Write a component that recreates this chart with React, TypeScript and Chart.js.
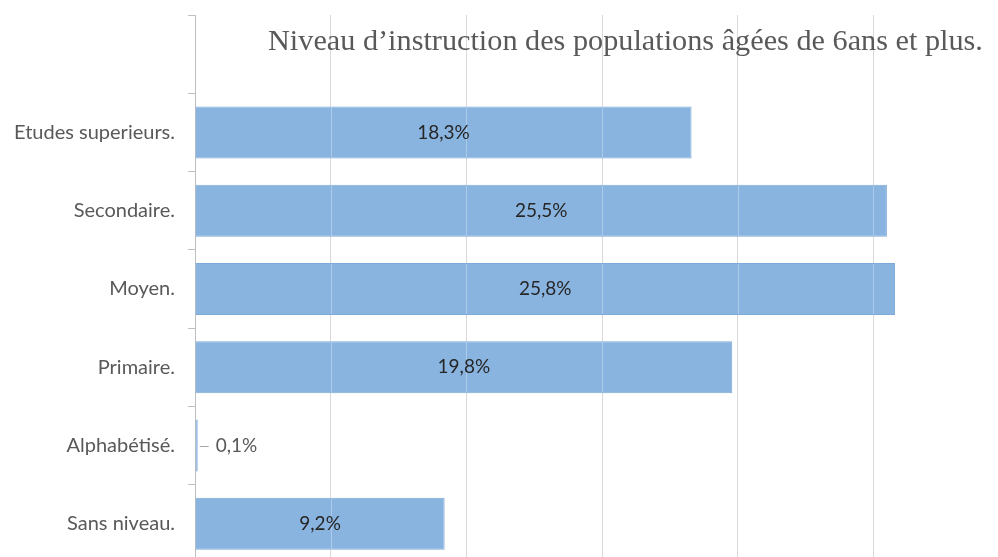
import React, { useEffect, useRef } from "react";
import { Chart, registerables } from "chart.js";

Chart.register(...registerables);

// Top band is empty: it holds the chart title, as in the reference.
const categories = ["", "Etudes superieurs.", "Secondaire.", "Moyen.", "Primaire.", "Alphabétisé.", "Sans niveau."];
const values: (number | null)[] = [null, 18.3, 25.5, 25.8, 19.8, 0.1, 9.2];
const valueLabels = ["", "18,3%", "25,5%", "25,8%", "19,8%", "0,1%", "9,2%"];
const xMin = 0;
const xMax = 30;
const xStep = 5;
const titleText = "Niveau d’instruction des populations âgées de 6ans et plus.";

const labelFont = "Lato";
const SHIFT = 10; // canvas is moved up by this much (chart area starts lower because of label padding)

const titlePlugin = {
  id: "insideTitle",
  afterDraw(chart: any) {
    const ctx = chart.ctx;
    ctx.save();
    ctx.fillStyle = "#595959";
    ctx.font = "100px 'Liberation Serif'";
    const w100 = ctx.measureText(titleText).width;
    const size = (100 * 715) / w100;
    ctx.font = `${size}px 'Liberation Serif'`;
    ctx.textAlign = "left";
    ctx.textBaseline = "alphabetic";
    ctx.fillText(titleText, 268, 50 + SHIFT);
    ctx.restore();
  },
};

const barDecorPlugin = {
  id: "barDecor",
  afterDatasetsDraw(chart: any) {
    const ctx = chart.ctx;
    const meta = chart.getDatasetMeta(0);
    const xScale = chart.scales.x;
    ctx.save();
    // light grid lines visible through bars
    meta.data.forEach((bar: any, i: number) => {
      const v = values[i];
      if (v == null) return;
      const { x, y, base, height } = bar.getProps(["x", "y", "base", "height"], true);
      ctx.strokeStyle = "rgba(255,255,255,0.3)";
      ctx.lineWidth = 1;
      for (let t = xMin + xStep; t < xMax; t += xStep) {
        const px = Math.round(xScale.getPixelForValue(t)) + 0.5;
        if (px > base + 1 && px < x - 1) {
          ctx.beginPath();
          ctx.moveTo(px, y - height / 2 + 1);
          ctx.lineTo(px, y + height / 2 - 1);
          ctx.stroke();
        }
      }
    });
    // value labels
    ctx.font = `19px ${labelFont}`;
    ctx.textBaseline = "middle";
    meta.data.forEach((bar: any, i: number) => {
      const v = values[i];
      if (v == null) return;
      const { x, y, base } = bar.getProps(["x", "y", "base"], true);
      if (x - base > 60) {
        ctx.fillStyle = "#262626";
        ctx.textAlign = "center";
        ctx.fillText(valueLabels[i], (x + base) / 2, y);
      } else {
        ctx.strokeStyle = "#a6a6a6";
        ctx.lineWidth = 1;
        ctx.beginPath();
        ctx.moveTo(x + 2, Math.round(y) + 0.5);
        ctx.lineTo(x + 11, Math.round(y) + 0.5);
        ctx.stroke();
        ctx.fillStyle = "#595959";
        ctx.textAlign = "left";
        ctx.fillText(valueLabels[i], x + 18, y);
      }
    });
    ctx.restore();
  },
};

export default function App() {
  const ref = useRef<HTMLCanvasElement | null>(null);
  useEffect(() => {
    if (!ref.current) return;
    const chart = new Chart(ref.current, {
      type: "bar",
      data: {
        labels: categories,
        datasets: [
          {
            data: values,
            backgroundColor: "#89b4e0",
            borderColor: "#7eaad8",
            borderWidth: 1,
            barPercentage: 0.664,
            categoryPercentage: 1,
          },
        ],
      },
      options: {
        indexAxis: "y",
        responsive: false,
        animation: false,
        layout: { padding: { top: 0, right: 1, left: 0, bottom: 0 } },
        plugins: {
          legend: { display: false },
          tooltip: { enabled: false },
          title: { display: false },
        },
        scales: {
          x: {
            min: xMin,
            max: xMax,
            ticks: { display: false, stepSize: xStep },
            grid: { color: "#d9d9d9", drawTicks: false, lineWidth: 1 },
            border: { display: false },
            afterFit: (s: any) => {
              s.height = 0;
            },
          },
          y: {
            grid: {
              drawOnChartArea: false,
              drawTicks: true,
              tickLength: 7,
              color: "#bfbfbf",
              offset: true,
            },
            border: { display: true, color: "#bfbfbf" },
            ticks: {
              color: "#595959",
              font: { family: labelFont, size: 20 },
              padding: 13,
              autoSkip: false,
            },
            afterFit: (s: any) => {
              s.width = 195;
            },
          },
        },
      },
      plugins: [titlePlugin, barDecorPlugin],
    } as any);
    return () => chart.destroy();
  }, []);

  return (
    <div
      style={{
        position: "fixed",
        top: 0,
        left: 0,
        width: 998,
        height: 557,
        overflow: "hidden",
        background: "#ffffff",
      }}
    >
      <canvas
        ref={ref}
        width={1010}
        height={598}
        style={{ display: "block", marginTop: -SHIFT }}
      />
    </div>
  );
}
